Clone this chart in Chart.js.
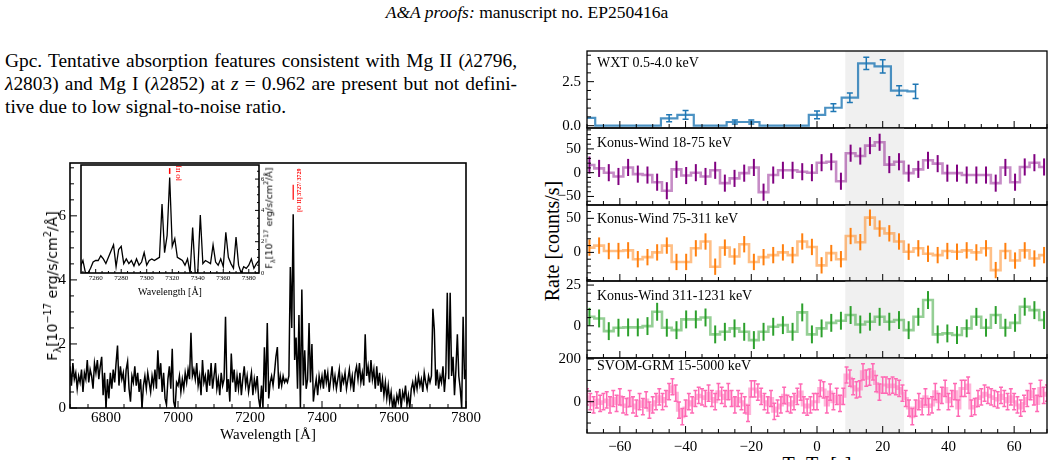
<!DOCTYPE html>
<html lang="en">
<head>
<meta charset="UTF-8">
<title>EP250416a spectrum and light curves</title>
<script src="https://cdn.jsdelivr.net/npm/chart.js"></script>
<style>
    body {
        margin: 0;
        width: 1054px;
        height: 460px;
        overflow: hidden;
        position: relative;
        background: #fff;
        color: #000;
        font-family: 'Liberation Serif', 'Times New Roman', serif;
    }
    canvas { position: absolute; }
    .abs { position: absolute; white-space: nowrap; }
    #header { top: 2px; left: 0; width: 1054px; text-align: center; font-size: 17.5px; line-height: 20px; }
    .para { left: 5px; width: 512px; font-size: 19.4px; line-height: 23.3px; }
    .para div { text-align: justify; text-align-last: justify; white-space: nowrap; }
    .para div.last { text-align-last: left; }
    .rot { position: absolute; white-space: nowrap; line-height: 1; transform: translate(-50%, -50%) rotate(-90deg); }
    .sans { font-family: 'DejaVu Sans', sans-serif; }
    sub, sup { font-size: 70%; line-height: 0; }
</style>
</head>
<body>
<div id="header" class="abs"><i>A&amp;A proofs:</i> manuscript no. EP250416a</div>
<div class="abs para" style="top:48.5px">
    <div>Gpc. Tentative absorption features consistent with Mg II (<i>λ</i>2796,</div>
    <div><i>λ</i>2803) and Mg I (<i>λ</i>2852) at <i>z</i> = 0.962 are present but not defini-</div>
    <div class="last">tive due to low signal-to-noise ratio.</div>
</div>

<canvas id="spec" width="490" height="310" style="left:0px; top:150px"></canvas>
<canvas id="inset" width="232" height="142" style="left:60px; top:158px"></canvas>
<div class="rot sans" style="left:51.5px; top:286px; font-size:14px">F<sub>λ</sub>[10<sup>−17</sup> erg/s/cm<sup>2</sup>/Å]</div>
<div class="rot sans" style="left:268.5px; top:218px; font-size:9.5px">F<sub>λ</sub>[10<sup>−17</sup> erg/s/cm<sup>2</sup>/Å]</div>

<div class="rot" style="left:552px; top:241px; font-size:20px">Rate [counts/s]</div>
<div class="abs" style="left:717px; width:200px; text-align:center; top:453.5px; font-size:20px; line-height:20px">T−T<sub>0</sub> [s]</div>

<script>
    // optical spectrum, 4 Å sampling from 6700 Å
    const specStart = 6700, specStep = 4;
    const specFlux = [
        1.3, 0.7, 1.4, 0.9, 1.1, 0.6, 1.0, 0.8, 1.2, 0.5, 1.1, 0.9, 1.5, 0.8, 1.2, 1.0, 0.6, 1.4, 1.1, 1.5, 0.9, 1.3, 1.6, 0.4, 1.1,
        0, 0.9, 0.3, 1.1, 0.6, 1.2, 0.8, 1.4, 1.95, 0.7, 1.3, 0.9, 1.1, 0.5, 1.2, 1.45, 0.6, 0.2, 1.0, 0.8, 1.3, 0.7, 1.1, 0.5, 0.9,
        0, 0.7, 1.0, 0.6, 1.1, 0.8, 0.5, 1.0, 0.7, 1.2, 0.6, 1.8, 0.9, 1.4, 0.5, 1.1, 0.3, 0.1, 0.9, 1.3, 0.6, 1.85, 0.2, 0, 0.8,
        0.7, 1.0, 0.5, 0.9, 0.6, 1.1, 0.8, 1.2, 0.9, 2.35, 1.0, 1.2, 0.9, 1.4, 0.7, 1.0, 0.4, 1.5, 0.8, 1.0, 0.5, 1.2, 0.7, 1.4, 0.6,
        1.0, 1.4, 0.6, 0.9, 0.4, 1.1, 0.7, 0.9, 2.85, 0.5, 0.9, 0.2, 1.7, 0.8, 1.2, 0.5, 1.0, 0.6, 1.1, 0.4, 0.9, 1.3, 0.7, 1.0, 0.5,
        0.8, 1.1, 0.4, 0.9, 0.6, 1.0, 0.3, 0, 0.7, 0, 1.9, 0.5, 2.65, 0.3, 0.8, 1.0, 0.7, 1.1, 1.6, 1.9, 0.6, 1.0, 0.7, 1.0, 0.8,
        0.9, 0.8, 1.0, 4.4, 2.5, 6.05, 1.5, 2.2, 0.6, 2.9, 0, 3.7, 0.7, 1.8, 0.6, 0.9, 2.65, 0.8, 2.0, 0.2, 0.6, 0.9, 0.4, 1.0, 0.7,
        1.0, 0.6, 1.2, 0.8, 1.1, 0.5, 0.9, 1.3, 0.7, 1.0, 0.6, 0.9, 1.2, 0.5, 1.0, 0.8, 1.1, 0.6, 0.9, 1.2, 0.7, 1.0, 0.5, 1.1, 1.3,
        0.9, 1.4, 0.8, 1.1, 0.7, 2.3, 1.0, 1.3, 0.8, 1.5, 0.9, 1.2, 0.6, 1.3, 0.7, 1.1, 0.5, 0.9, 0.4, 0.8, 0.3, 0.7, 0.2, 0.5, 0,
        0.3, 0, 0.4, 0.2, 0.6, 0, 0.5, 0.3, 0.7, 0.1, 0.4, 0, 0.6, 0.8, 0.5, 0.9, 0.6, 1.0, 0.7, 0.9, 0.5, 1.1, 0.8, 0.6, 1.0,
        0.8, 1.0, 3.1, 2.45, 0.7, 1.2, 0.6, 1.0, 0.8, 1.3, 0.5, 1.1, 3.6, 0.9, 3.6, 1.0, 1.6, 0.4, 1.2, 2.3, 1.0, 0.6, 0, 2.85, 0.9,
        1.2
    ];
    // inset around [O II], 2 Å sampling from 7248 Å
    const zoomStart = 7248, zoomStep = 2;
    const zoomFlux = [
        0.4, 0.8, 0, 0, 0.3, 0.7, 0.8, 0.8, 1.1, 0.9,
        0.6, 1.0, 1.4, 1.8, 0.4, 1.5, 1.7, 0.6, 0.9, 0.6,
        0.8, 0.45, 0.9, 0.5, 0.7, 1.3, 0.5, 0.8, 0.9, 0.8,
        0.9, 1.0, 4.4, 1.3, 2.4, 6.1, 1.7, 2.2, 1.0, 0.9,
        0.8, 0.5, 0.9, 0, 2.9, 0, 0, 3.7, 0.6, 0.8,
        0.7, 0.6, 1.8, 0.7, 0.5, 0.9, 0.4, 2.6, 1.0, 0.6,
        0.3, 2.3, 0.5, 0, 0.4, 0.3, 0.5, 0.9, 0.3, 0.6,
        0.8
    ];
    const specXTicks = [6800, 7000, 7200, 7400, 7600, 7800];
    const specYTicks = [0, 2, 4, 6];
    const zoomXTicks = [7260, 7280, 7300, 7320, 7340, 7360, 7380];
    const zoomYTicks = [0, 2, 4, 6];

    // light curves
    const wxtTime = [-70, -65, -60, -55, -50, -45, -40, -35, -30, -25, -20, -15, -10, -5, 0, 5, 10, 15, 20, 25, 30];
    const wxtRate = [0.45, 0, 0, 0, 0, 0.42, 0.62, 0, 0, 0.21, 0.21, 0, 0, 0, 0.62, 1.02, 1.59, 3.54, 3.37, 1.99, 1.95];
    const wxtErr = [0, 0, 0, 0, 0, 0.2, 0.25, 0, 0, 0.12, 0.12, 0, 0, 0, 0.22, 0.22, 0.27, 0.35, 0.38, 0.28, 0.4];

    const kwStart = -69.26, kwBin = 2.944;
    const kw1Rate = [16, 9, 0, -8, 11, -3, -5, -20, -38, 7, -6, 0, -8, 5, -22, -12, -1, 11, -41, -5, 5, 5, 2, 0,
        21, 23, -18, 41, 35, 57, 64, 17, 23, -1, 7, 26, 19, -1, -1, -5, -5, -5, -22, 11, -20, 12, 21, 12];
    const kw2Rate = [7, 10, 2, 2, 3, -10, -7, 0, 10, -14, -14, 6, 16, -21, 7, -6, 12, -14, -7, -4, 0, -4, 16, 8,
        -19, -1, -10, 24, 15, 51, 35, 28, 16, 1, 6, -2, -4, 2, 1, 3, 0, 6, -26, 2, -12, 3, -9, -4];
    const kw3Rate = [5.5, 4.5, -3.3, -1.2, -1, -1, -0.2, 8.6, -1.2, -2.7, 3.9, 3.9, 5.1, -5.3, -3.7, -1.6, -3.7, -8.8, -3.7, -0.6, 0.4, -3.7, 8.2, -5.3,
        -1.6, 1.8, 3.1, 6.6, 0.8, 2.5, 5.5, 2.5, 3.5, -2.7, 5.5, 15.8, -5.3, -4.7, -5.7, -1.6, 5.5, -1.2, 6.6, -1.2, 1.8, 11.7, 9.6, 3.5];
    const kw1Err = 18, kw2Err = 12, kw3Err = 5.5;

    const grmStart = -70, grmBin = 1;
    const grmRate = [
        23, 0, -15, 8, -8, 0, 8, -15, 15, -8, 23, -15, -23, 15, -15, -30, 0, -23, 8, -40,
        -15, 0, 23, 0, 15, 47, 70, 40, -40, -70, -30, 0, -15, 15, 30, 23, 15, 40, 15, 0,
        47, 30, 15, 47, 15, -15, 15,
        0, -15, -55, 60, 60, 45, 25, 0, -15, 15, -45, -30, -15, 30, -8, -15, 0, 25, 45, -15,
        -25, -15, 0, 0, 62, 55, -15, 45, 0, 25, -8, 25, 125, 110, 70, 55, 60, 140, 110, 115,
        140, 85, 45, 78, 78, 70, 78,
        70, 62, 40, 15, -30, -70, -30, 0, -23, 23, -23, -15, 47, 0, 30, 62, 0, 15, 47, -30,
        62, 62, 78, -30, -23, 15, 23, 40, 30, 23, 15, 8, 30, 15, 0, 23, 0, -15, -30, -8,
        15, 47, 23, -8, 62, 30, 40
    ];
    const grmErr = 38;

    const lcTicks = [-60, -40, -20, 0, 20, 40, 60];
    const t90 = [8.6, 26.5];
    const panelNames = ['WXT 0.5-4.0 keV', 'Konus-Wind 18-75 keV', 'Konus-Wind 75-311 keV', 'Konus-Wind 311-1231 keV', 'SVOM-GRM 15-5000 keV'];
    const panelYTicks = [[0, 2.5], [-50, 0, 50], [0, 50], [0, 25], [0, 200]];

    Chart.defaults.font.family = "'Liberation Serif', 'Times New Roman', serif";
    Chart.defaults.color = '#000';
    Chart.defaults.animation = false;
    Chart.defaults.responsive = false;
    Chart.defaults.plugins.legend.display = false;
    Chart.defaults.plugins.tooltip.enabled = false;

    const noGrid = { display: false, drawTicks: false };
    const minus = v => String(v).replace('-', '\u2212');

    function fixScale(size, horizontal) {
        return function (s) {
            if (horizontal) s.height = size; else s.width = size;
            s.paddingLeft = s.paddingRight = s.paddingTop = s.paddingBottom = 0;
        };
    }
    function setTicks(values) {
        return function (s) { s.ticks = values.map(v => ({ value: v })); };
    }

    function tickMarks(ctx, a, scale, side, major, minor, lens) {
        const mark = (v, len) => {
            const p = scale.getPixelForValue(v);
            ctx.beginPath();
            if (side === 'bottom') { ctx.moveTo(p, a.bottom); ctx.lineTo(p, a.bottom - len); }
            else if (side === 'left') { ctx.moveTo(a.left, p); ctx.lineTo(a.left + len, p); }
            else if (side === 'right') { ctx.moveTo(a.right, p); ctx.lineTo(a.right - len, p); }
            ctx.stroke();
        };
        const lo = scale.min, hi = scale.max;
        if (minor) {
            for (let k = Math.ceil(lo / minor); k * minor <= hi; k++) {
                const v = k * minor;
                if (!major.some(m => Math.abs(m - v) < minor / 10)) mark(v, lens[1]);
            }
        }
        major.forEach(v => { if (v >= lo && v <= hi) mark(v, lens[0]); });
    }

    // frame, inward ticks, shading, error bars and small annotations
    function decor(cfg) {
        return {
            id: 'decor',
            beforeDatasetsDraw(chart) {
                const { ctx, chartArea: a, scales: { x } } = chart;
                ctx.save();
                if (cfg.fill) { ctx.fillStyle = cfg.fill; ctx.fillRect(a.left, a.top, a.width, a.height); }
                if (cfg.shade) {
                    const x0 = x.getPixelForValue(cfg.shade[0]), x1 = x.getPixelForValue(cfg.shade[1]);
                    ctx.fillStyle = '#f0f0f0';
                    ctx.fillRect(x0, a.top, x1 - x0, a.height);
                }
                ctx.restore();
            },
            afterDatasetsDraw(chart) {
                const { ctx, chartArea: a, scales } = chart;
                const x = scales.x, y = scales.y;
                ctx.save();
                ctx.beginPath();
                ctx.rect(a.left, a.top, a.width, a.height);
                ctx.clip();
                chart.data.datasets.forEach(ds => {
                    if (ds.err === undefined) return;
                    ctx.strokeStyle = ds.errColor;
                    ctx.lineWidth = ds.errWidth;
                    ds.data.forEach((p, i) => {
                        const e = Array.isArray(ds.err) ? ds.err[i] : ds.err;
                        if (!e) return;
                        const px = x.getPixelForValue(p.x);
                        const y0 = y.getPixelForValue(p.y - e), y1 = y.getPixelForValue(p.y + e);
                        ctx.beginPath();
                        ctx.moveTo(px, y0); ctx.lineTo(px, y1);
                        if (ds.cap) {
                            ctx.moveTo(px - ds.cap, y0); ctx.lineTo(px + ds.cap, y0);
                            ctx.moveTo(px - ds.cap, y1); ctx.lineTo(px + ds.cap, y1);
                        }
                        ctx.stroke();
                    });
                });
                ctx.restore();

                ctx.save();
                ctx.strokeStyle = '#000';
                ctx.lineWidth = 1;
                (cfg.axes || []).forEach(ax => tickMarks(ctx, a, scales[ax.scale], ax.side, ax.major, ax.minor, cfg.tickLen));
                ctx.lineWidth = cfg.frame;
                ctx.strokeRect(a.left, a.top, a.width, a.height);
                if (cfg.label) {
                    ctx.fillStyle = '#000';
                    ctx.font = "14px 'Liberation Serif'";
                    ctx.textBaseline = 'alphabetic';
                    ctx.textAlign = 'left';
                    ctx.fillText(cfg.label, a.left + 10, a.top + cfg.labelBase);
                }
                (cfg.marks || []).forEach(m => {
                    ctx.strokeStyle = ctx.fillStyle = m.color;
                    if (m.type === 'line') {
                        ctx.lineWidth = m.width;
                        ctx.beginPath();
                        ctx.moveTo(x.getPixelForValue(m.x), y.getPixelForValue(m.y0));
                        ctx.lineTo(x.getPixelForValue(m.x), y.getPixelForValue(m.y1));
                        ctx.stroke();
                    } else {
                        ctx.save();
                        ctx.translate(x.getPixelForValue(m.x), y.getPixelForValue(m.y));
                        ctx.rotate(-Math.PI / 2);
                        ctx.font = m.font;
                        ctx.textAlign = 'left';
                        ctx.textBaseline = 'middle';
                        ctx.fillText(m.text, 0, 0);
                        ctx.restore();
                    }
                });
                ctx.restore();
            }
        };
    }

    // main spectrum
    new Chart(document.getElementById('spec'), {
        type: 'line',
        data: {
            datasets: [{
                data: specFlux.map((f, i) => ({ x: specStart + i * specStep, y: f })),
                borderColor: '#000', borderWidth: 1.5, pointRadius: 0, tension: 0
            }]
        },
        options: {
            layout: { padding: { top: 13, right: 24, left: 0, bottom: 0 } },
            scales: {
                x: {
                    type: 'linear', min: 6700, max: 7800, grid: noGrid, border: { display: false },
                    afterBuildTicks: setTicks(specXTicks), afterFit: fixScale(52, true),
                    ticks: { font: { size: 15 }, padding: 1, maxRotation: 0, autoSkip: false, callback: v => String(v) },
                    title: { display: true, text: 'Wavelength [Å]', font: { size: 15 }, padding: { top: 0, bottom: 16 } }
                },
                y: {
                    min: 0, max: 7.65, grid: noGrid, border: { display: false },
                    afterBuildTicks: setTicks(specYTicks), afterFit: fixScale(70, false),
                    ticks: { font: { size: 15 }, padding: 4, autoSkip: false, callback: v => String(v) }
                }
            }
        },
        plugins: [decor({
            frame: 1.6, tickLen: [7, 4],
            axes: [{ scale: 'x', side: 'bottom', major: specXTicks, minor: 50 },
                   { scale: 'y', side: 'left', major: specYTicks, minor: 0.5 }],
            marks: [{ type: 'line', x: 7320, y0: 6.5, y1: 6.97, color: '#ff0000', width: 1.2 },
                    { type: 'text', x: 7338, y: 6.12, text: '[O II] 3727/ 3729', font: "bold 6px 'Liberation Serif'", color: '#ff0000' }]
        })]
    });

    // zoomed inset
    new Chart(document.getElementById('inset'), {
        type: 'line',
        data: {
            datasets: [{
                data: zoomFlux.map((f, i) => ({ x: zoomStart + i * zoomStep, y: f })),
                borderColor: '#000', borderWidth: 1.3, pointRadius: 0, tension: 0
            }]
        },
        options: {
            layout: { padding: { top: 7, right: 0, left: 21, bottom: 0 } },
            scales: {
                x: {
                    type: 'linear', min: 7248.5, max: 7388, grid: noGrid, border: { display: false },
                    afterBuildTicks: setTicks(zoomXTicks), afterFit: fixScale(27, true),
                    ticks: { font: { size: 7 }, padding: 1, maxRotation: 0, autoSkip: false, callback: v => String(v) },
                    title: { display: true, text: 'Wavelength [Å]', font: { size: 10 }, padding: { top: 0, bottom: 2 } }
                },
                y: {
                    position: 'right', min: 0, max: 6.9, grid: noGrid, border: { display: false },
                    afterBuildTicks: setTicks(zoomYTicks), afterFit: fixScale(33, false),
                    ticks: { font: { size: 6.5 }, padding: 2, autoSkip: false, callback: v => String(v) }
                }
            }
        },
        plugins: [decor({
            fill: '#fff', frame: 1.6, tickLen: [4, 2],
            axes: [{ scale: 'x', side: 'bottom', major: zoomXTicks, minor: 5 },
                   { scale: 'y', side: 'right', major: zoomYTicks, minor: 0.5 }],
            marks: [{ type: 'line', x: 7318, y0: 6.33, y1: 6.7, color: '#ff0000', width: 1.5 },
                    { type: 'text', x: 7324.5, y: 5.9, text: '[O II]', font: "bold 6px 'Liberation Serif'", color: '#ff0000' }]
        })]
    });

    // stacked light-curve panels
    const kwTime = kw1Rate.map((_, i) => kwStart + i * kwBin);
    const grmTime = grmRate.map((_, i) => grmStart + i * grmBin);
    const panels = [
        { t: wxtTime, r: wxtRate, e: wxtErr, line: 'rgba(31,119,180,0.8)', bar: '#1f77b4', lw: 2.2, ew: 1.5, cap: 3, yr: [-0.13, 4.24], minor: 0.5, fmt: v => v.toFixed(1), base: 15.5 },
        { t: kwTime, r: kw1Rate, e: kw1Err, line: 'rgba(128,0,128,0.45)', bar: '#800080', lw: 2.6, ew: 2, cap: 0, yr: [-68, 94], minor: 10, fmt: minus, base: 18.5 },
        { t: kwTime, r: kw2Rate, e: kw2Err, line: 'rgba(255,127,14,0.5)', bar: '#ff7f0e', lw: 2.6, ew: 2, cap: 0, yr: [-42, 69.6], minor: 10, fmt: minus, base: 17.5 },
        { t: kwTime, r: kw3Rate, e: kw3Err, line: 'rgba(44,160,44,0.5)', bar: '#2ca02c', lw: 2.6, ew: 2, cap: 0, yr: [-19.8, 27.5], minor: 5, fmt: minus, base: 18.5 },
        { t: grmTime, r: grmRate, e: grmErr, line: 'rgba(255,105,180,0.5)', bar: '#ff69b4', lw: 3, ew: 1.5, cap: 2, yr: [-146.7, 204.7], minor: 50, fmt: minus, base: 12 }
    ];
    const panelTop = [51, 128, 205, 281, 358], panelBottom = 433;

    panels.forEach((p, i) => {
        const last = i === panels.length - 1;
        const top = panelTop[i], bottom = last ? panelBottom : panelTop[i + 1];
        const cv = document.createElement('canvas');
        cv.width = 514;
        cv.height = 12 + (bottom - top) + (last ? 30 : 12);
        cv.style.left = '540px';
        cv.style.top = (top - 12) + 'px';
        document.body.appendChild(cv);
        new Chart(cv, {
            type: 'line',
            data: {
                datasets: [{
                    data: p.t.map((t, k) => ({ x: t, y: p.r[k] })),
                    err: p.e, errColor: p.bar, errWidth: p.ew, cap: p.cap,
                    borderColor: p.line, borderWidth: p.lw, stepped: 'middle', pointRadius: 0, fill: false
                }]
            },
            options: {
                layout: { padding: { top: 12, bottom: last ? 0 : 12, left: 0, right: 7 } },
                scales: {
                    x: {
                        type: 'linear', min: -70, max: 70, grid: noGrid, border: { display: false },
                        afterBuildTicks: setTicks(lcTicks), afterFit: fixScale(last ? 30 : 0, true),
                        ticks: { display: last, font: { size: 15 }, padding: 5, maxRotation: 0, autoSkip: false, callback: minus }
                    },
                    y: {
                        min: p.yr[0], max: p.yr[1], grid: noGrid, border: { display: false },
                        afterBuildTicks: setTicks(panelYTicks[i]), afterFit: fixScale(47, false),
                        ticks: { font: { size: 15 }, padding: 6, autoSkip: false, callback: p.fmt }
                    }
                }
            },
            plugins: [decor({
                shade: t90, frame: 1.3, tickLen: [7, 4],
                axes: [{ scale: 'x', side: 'bottom', major: lcTicks, minor: 5 },
                       { scale: 'y', side: 'left', major: panelYTicks[i], minor: p.minor }],
                label: panelNames[i], labelBase: p.base
            })]
        });
    });
</script>
</body>
</html>
